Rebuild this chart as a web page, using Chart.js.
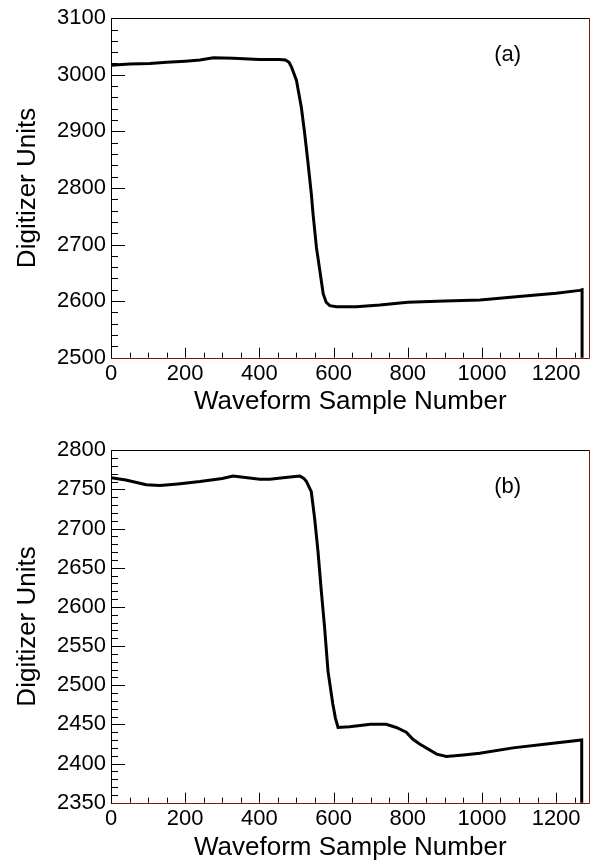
<!DOCTYPE html>
<html>
<head>
<meta charset="utf-8">
<script src="https://cdn.jsdelivr.net/npm/chart.js@4.4.1/dist/chart.umd.min.js"></script>
<style>
  html, body { margin: 0; padding: 0; background: #fff; }
  canvas { display: block; }
</style>
</head>
<body>
<canvas id="waveA" width="595" height="432"></canvas>
<canvas id="waveB" width="595" height="432"></canvas>
<script>
// waveform (a): sample number and digitizer value
var samplesA = [0, 50, 105, 150, 200, 240, 276, 330, 400, 455, 470, 480, 487, 500, 513, 522, 531, 540, 545, 554, 563, 572, 580, 590, 608, 661, 725, 800, 900, 995, 1100, 1200, 1264, 1270, 1270];
var unitsA   = [3017, 3019, 3020, 3022, 3024, 3026, 3030, 3029, 3027, 3027, 3026, 3022, 3013, 2990, 2943, 2897, 2845, 2790, 2752, 2694, 2654, 2613, 2598, 2592, 2590, 2590, 2593, 2598, 2600, 2602, 2608, 2614, 2619, 2620, 0];

// waveform (b)
var samplesB = [0, 40, 95, 132, 180, 240, 300, 329, 401, 428, 470, 509, 520, 527, 540, 549, 558, 567, 576, 585, 598, 605, 612, 643, 700, 742, 769, 796, 814, 832, 878, 904, 950, 994, 1084, 1174, 1269, 1270];
var unitsB   = [2765, 2762, 2756, 2755, 2757, 2760, 2764, 2767, 2763, 2763, 2765, 2767, 2764, 2760, 2747, 2713, 2671, 2620, 2573, 2518, 2476, 2458, 2446, 2447, 2450, 2450, 2446, 2440, 2431, 2425, 2412, 2409, 2411, 2413, 2420, 2425, 2430, 0];

// tick labels
var xTicks  = [0, 200, 400, 600, 800, 1000, 1200];
var yTicksA = [2500, 2600, 2700, 2800, 2900, 3000, 3100];
var yTicksB = [2350, 2400, 2450, 2500, 2550, 2600, 2650, 2700, 2750, 2800];

var FONT = '"Liberation Sans", Arial, Helvetica, sans-serif';

// ROOT-style frame: inward ticks, black top/left, dark red bottom/right
function frameTicks(p) {
  return {
    id: 'frameTicks',
    afterDatasetsDraw: function(chart) {
      var ctx = chart.ctx, a = chart.chartArea;
      var x = chart.scales.x, y = chart.scales.y;
      ctx.save();
      ctx.lineWidth = 1;
      ctx.strokeStyle = '#000';
      ctx.beginPath();
      for (var v = 0; v <= 1290; v += 50) {
        var px = Math.round(x.getPixelForValue(v)) + 0.5;
        var len = (v % 200 === 0) ? 10 : 5;
        ctx.moveTo(px, a.bottom);
        ctx.lineTo(px, a.bottom - len);
      }
      for (var w = p.yMin; w <= p.yMax; w += p.yMinor) {
        var py = Math.round(y.getPixelForValue(w)) + 0.5;
        var l2 = ((w - p.yMin) % p.yMajor === 0) ? 14 : 7;
        ctx.moveTo(a.left, py);
        ctx.lineTo(a.left + l2, py);
      }
      ctx.stroke();

      var L = Math.round(a.left) + 0.5, T = Math.round(a.top) + 0.5;
      var R = Math.round(a.right) - 0.5, B = Math.round(a.bottom) + 0.5;
      ctx.beginPath();
      ctx.moveTo(L, B); ctx.lineTo(L, T); ctx.lineTo(R, T);
      ctx.strokeStyle = '#000';
      ctx.stroke();
      ctx.beginPath();
      ctx.moveTo(R, T); ctx.lineTo(R, B); ctx.lineTo(L, B);
      ctx.strokeStyle = '#7a1414';
      ctx.stroke();

      ctx.fillStyle = '#000';
      ctx.font = '22px ' + FONT;
      ctx.textAlign = 'center';
      ctx.textBaseline = 'middle';
      ctx.fillText(p.tag, a.left + (a.right - a.left) * 0.829, a.top + 37);
      ctx.restore();
    }
  };
}

function plain(v) { return String(v); }

function makeChart(id, xs, ys, p) {
  var pts = xs.map(function(s, i) { return {x: s, y: ys[i]}; });
  return new Chart(document.getElementById(id), {
    type: 'line',
    data: {
      datasets: [{
        data: pts,
        borderColor: '#000',
        borderWidth: 3,
        pointRadius: 0,
        tension: 0,
        fill: false
      }]
    },
    options: {
      responsive: false,
      animation: false,
      layout: { padding: { top: p.top, right: 5.5, left: 0, bottom: 0 } },
      plugins: {
        legend: { display: false },
        tooltip: { enabled: false }
      },
      scales: {
        x: {
          type: 'linear',
          min: 0,
          max: 1290,
          afterBuildTicks: function(s) { s.ticks = xTicks.map(function(v) { return {value: v}; }); },
          afterFit: function(s) { s.height = p.xAxisH; },
          grid: { display: false, drawTicks: false },
          border: { display: false },
          ticks: { autoSkip: false, maxRotation: 0, padding: 3, color: '#000', callback: plain, font: { family: FONT, size: 22 } },
          title: { display: true, text: 'Waveform Sample Number', color: '#000', font: { family: FONT, size: 26 }, padding: { top: 0, bottom: p.xTitlePad } }
        },
        y: {
          type: 'linear',
          min: p.yMin,
          max: p.yMax,
          afterBuildTicks: function(s) { s.ticks = p.yTicks.map(function(v) { return {value: v}; }); },
          afterFit: function(s) { s.width = 111; },
          grid: { display: false, drawTicks: false },
          border: { display: false },
          ticks: { autoSkip: false, padding: 5, color: '#000', callback: plain, font: { family: FONT, size: 22 } },
          title: { display: true, text: 'Digitizer Units', color: '#000', font: { family: FONT, size: 26 }, padding: { top: 12.4, bottom: 0 } }
        }
      }
    },
    plugins: [frameTicks(p)]
  });
}

makeChart('waveA', samplesA, unitsA, {
  top: 13.3, xAxisH: 74.3, xTitlePad: 14.4,
  yMin: 2500, yMax: 3100, yMajor: 100, yMinor: 20, yTicks: yTicksA, tag: '(a)'
});
makeChart('waveB', samplesB, unitsB, {
  top: 16.3, xAxisH: 61.3, xTitlePad: 0.4,
  yMin: 2350, yMax: 2800, yMajor: 50, yMinor: 10, yTicks: yTicksB, tag: '(b)'
});
</script>
</body>
</html>
